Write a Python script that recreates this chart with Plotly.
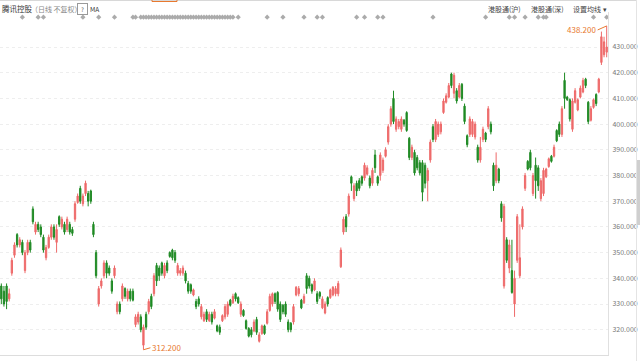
import plotly.graph_objects as go

open_ = [337,335,337,332,342,349,357,353,354,343,350,354,367,358,361,360,356,348,352,356,
         360,354,364,360,361,359,361,359,363,369.5,375,369,373,373,374,361,350,330,337,341,
         346,344,339,341,327,330,332,336,332,335,335,322,323,325,314,326,327,333,334,345,
         344,346,341,346,350,351,350,342,342,342,342,338,337.5,333.5,331,332,325,323.5,327,323.5,
         326,324.5,321.5,321,323.5,325,326,331.5,330.5,334,332.5,326,327.5,323.5,320.5,320,319.5,324,315.5,318.5,
         321.5,322.5,327.5,330,334,334.5,330,329.5,330,323,322.5,323,333.5,334,331.5,330.5,341,340,337.5,335.5,
         334,334.5,328.5,326.5,332.5,332.5,333.5,334,334,344.5,358,364,365,379.5,371,377,378,379.5,379,380.5,
         379,377,388,379.5,380,382,387.5,393,400,410,398,399,398,401.5,404.5,394.5,387,389,387,385,
         385,384,378,386,399,394,396,397,404.5,408.5,410.5,419.5,412,413,410.5,415.5,407,395.5,396,396,
         395,391,386,394,396.5,399,400,384,378,382.5,369,337,355,344,343,330,347,341,360,375,
         385.5,389,373,384,383,371,373,379.5,383.5,387.5,387.5,397.5,400,396,417,410.5,409.5,398,408.5,405.5,
         410.5,412.5,417.5,408.5,401.5,406.5,411.5,412.5,424,427,428]
high = [338,337,338,336,348,354,357.6,356,355,351,355,355,368,362,362,361,357,353,357,361,
        361,361,364.5,364,362,364,362,360,370,373,376,373,378,374,374.5,362,351,337,340,347,
        347,345,340,345,331,331,338,336.5,336,336,336,326,327,326,322,327,332,334,342,346,
        345,346.5,346,347,350.5,351.5,351,346,344,345,343,339,338,336,332,333,330,327,328,327,
        327,328,322,322,326,330,331,332,334,334.5,333,331,328,324,321,321,324,325,319,322,
        322,328,334,334.5,334.5,335,331,330,331,324,323,330,337,337,332,334,342,341,338,340,
        335,335,333,331,333,336,337,337,339,352,364,365,373,380,377,378,379,380,385,384,
        380,383,390,380,389,387,391,400,407,413,403,402,403,402,405,395,392,390,388,386,
        386,385,383,394,400,402,401,401,410,412,416,420,420,414,416,416,408,396,403,402,
        401,392,395,399,397,407,401,385,389,383,370,369,356,355,355,343,365,361,368,381,
        386,390,381,387,384,379,383,383,387,388,392,398,401,407,420,411,410,410,414,410,
        415,418,418,409,407,410,412,418,436,434,438.2]
low = [330,329,328,331,341,348,352,352,349,342,349,350,361,357,358,356,350,347,351.5,355,
       355,350,360,359,357,358,357,356.5,362,369,369,368,372,368,369,356,340,329,336,340,
       340,341,334,340,326,326,331,332,331,331,331,321,322,319,312.2,320,326,328,333,337,
       339,341,340,342,348,347,346,341,341,341,338,334,334,333,328,329,324,323,323,323,
       322,324,319,318,323,324,325,329,330,331,330,325,325,320,317,317,319,318,315,318,
       318,322,327,329,330,327,323,326,325,319,319,322,333,333,328,330,334,336,334,335,
       330,332,328,326,329,332,333,333,333,344,357,358,364,374,370,372,374,376,378,380,
       375,376,381,376,378,381,387,392,399,400,397,398,397,399,397,386,386,380,382,380,
       370,375,370,385,393,393,395,396,404,408,410,414,410,408,410,409,400,391,395,395,
       394,385,385,393,393,398,396,374,377,377,362,336,346,342,334,325,346,340,359,374,
       382,382,372,371,374,370,372,379,383,385,387,393,395,395,406,409,401,397,408,405,
       410,412,414,400,401,406,407,412,423,426,426]
close = [332,330,331,334,347,353,353,355,350,350,354,351,362,361,359,357,351,352,356,360,
         356,359,361,363,358,363,358,357.5,369,372,370,372,377,370,370,357,341,336,339,346,
         342,342,335,344,330,327,337,333,335,332,331.5,325,326,320,321,321,331,329,341,339,
         341,342,345,343,348.5,348,347,345,343,344,339,335,335,335.5,329,330,329,326,324,326,
         323,327,319.5,319,325.5,329,330,329.5,333,332,330.5,330,325.5,320.5,317.5,318,323,319,318,321.5,
         318.5,327,333,334,331,328,324,327,326,320,320,329,336.5,336,328.5,333,336,337,335,339,
         331,333,332,330,330,335.5,336.5,336,338,351,363,360,372,377,376,374,375,377,384,383,
         376,382,383,377,388,386,390,399,406,401,402,401,402,400,397.5,387,391,381,383,381,
         373.5,377,382,393,394,401,400,400,409,411,415,415,419,409,415,410,401,392,402,401,
         400,386,391,398,394,406,397,376,384,378,363.5,368,347,353,334.5,340,364,348,367,380,
         382.5,383,380,378,376,378,382,382.5,386.5,385.5,391,393.5,396,406,410,409.5,402,409,413,409.5,
         414,417,415,401,406,409.5,408,417.5,434,432,430]

idx = list(range(len(close)))

event_idx = [8,14,16,31,37,43,50,51,53,54,55,56,57,58,59,60,61,62,63,64,65,66,67,68,69,70,
             71,72,73,74,75,76,77,78,79,80,81,82,83,84,85,86,87,88,90,101,107,115,120,122,
             135,138,143,145,164,184,193,195,199,204,206,207,225,230]

y_ticks = [320,330,340,350,360,370,380,390,400,410,420,430]
y_range = [310.16, 443.62]

RED = "#ee6a6a"
GREEN = "#1f8a24"
ORANGE = "#e8792f"
CJK = "Noto Sans CJK SC"

fig = go.Figure()
fig.add_trace(go.Candlestick(
    x=idx, open=open_, high=high, low=low, close=close,
    increasing=dict(line=dict(color=RED, width=1), fillcolor=RED),
    decreasing=dict(line=dict(color=GREEN, width=1), fillcolor=GREEN),
    whiskerwidth=0, showlegend=False, hoverinfo="skip"))

fig.add_trace(go.Scatter(
    x=event_idx, y=[0.985]*len(event_idx), yaxis="y2", mode="markers",
    marker=dict(symbol="diamond", size=4, color="#ababab"),
    showlegend=False, hoverinfo="skip", cliponaxis=False))

hi = max(high); hi_i = high.index(hi)
lo = min(low); lo_i = low.index(lo)
fig.add_annotation(x=hi_i, y=hi, text=f"{hi:.3f}", showarrow=True, arrowhead=0,
                   arrowwidth=1, arrowcolor=ORANGE, ax=-9, ay=4, xanchor="right",
                   font=dict(size=8, color=ORANGE, family=CJK))
fig.add_annotation(x=lo_i, y=lo, text=f"{lo:.3f}", showarrow=True, arrowhead=0,
                   arrowwidth=1, arrowcolor=ORANGE, ax=7, ay=-2, xanchor="left",
                   font=dict(size=8, color=ORANGE, family=CJK))

W = 608.0
def px(xp):
    return xp / W
def py(yp):
    return (355 - yp) / 343.0

fig.add_annotation(xref="paper", yref="paper", x=px(0), y=py(9), xanchor="left", yanchor="middle",
                   showarrow=False, text="腾讯控股", font=dict(size=7.5, color="#333", family=CJK))
fig.add_annotation(xref="paper", yref="paper", x=px(29), y=py(9), xanchor="left", yanchor="middle",
                   showarrow=False, text="（日线 不复权）", font=dict(size=7, color="#888", family=CJK))
fig.add_annotation(xref="paper", yref="paper", x=px(82), y=py(9), xanchor="center", yanchor="middle",
                   showarrow=False, text="?", bordercolor="#999", borderwidth=1, borderpad=1,
                   width=7, height=8,
                   font=dict(size=6, color="#555", family=CJK))
fig.add_annotation(xref="paper", yref="paper", x=px(88), y=py(9), xanchor="left", yanchor="middle",
                   showarrow=False, text="MA", font=dict(size=6.5, color="#333", family=CJK))
for xp, t in [(486, "港股通(沪)"), (529, "港股通(深)"), (571, "设置均线 ▾")]:
    fig.add_annotation(xref="paper", yref="paper", x=px(xp), y=py(9), xanchor="left", yanchor="middle",
                       showarrow=False, text=t, font=dict(size=7, color="#444", family=CJK))

shapes = [
    dict(type="line", xref="paper", yref="paper", x0=0, x1=px(636), y0=py(0.5), y1=py(0.5),
         line=dict(color="#d8d8d8", width=1)),
    dict(type="rect", xref="paper", yref="paper", x0=px(152), x1=px(177), y0=py(1.5), y1=py(-3),
         line=dict(color=ORANGE, width=1)),
    dict(type="line", xref="paper", yref="paper", x0=px(636.5), x1=px(636.5), y0=py(0), y1=py(361),
         line=dict(color="#e4e4e4", width=1)),
    dict(type="rect", xref="paper", yref="paper", x0=px(637), x1=px(640), y0=py(160), y1=py(225),
         line=dict(width=0), fillcolor="#cfcfcf"),
]

fig.update_layout(
    width=640, height=361,
    margin=dict(l=0, r=32, t=12, b=6),
    paper_bgcolor="white", plot_bgcolor="white",
    shapes=shapes,
    xaxis=dict(range=[-0.5, len(close) - 0.5], showticklabels=False, showgrid=False, zeroline=False,
               rangeslider=dict(visible=False), showline=True, linecolor="#dddddd", linewidth=1,
               ticks=""),
    yaxis=dict(range=y_range, side="right", tickvals=y_ticks, tickformat=".3f",
               showgrid=True, gridcolor="#eeeeee", griddash="dot", gridwidth=1,
               zeroline=False, showline=True, linecolor="#e0e0e0", linewidth=1, ticks="",
               ticklabelstandoff=2,
               tickfont=dict(size=7, color="#777", family=CJK)),
    yaxis2=dict(overlaying="y", range=[0, 1], visible=False),
    hovermode=False,
)

fig.write_html("out.html", config={"displayModeBar": False},
               post_script="document.body.style.margin='0';document.body.style.overflow='hidden';")
